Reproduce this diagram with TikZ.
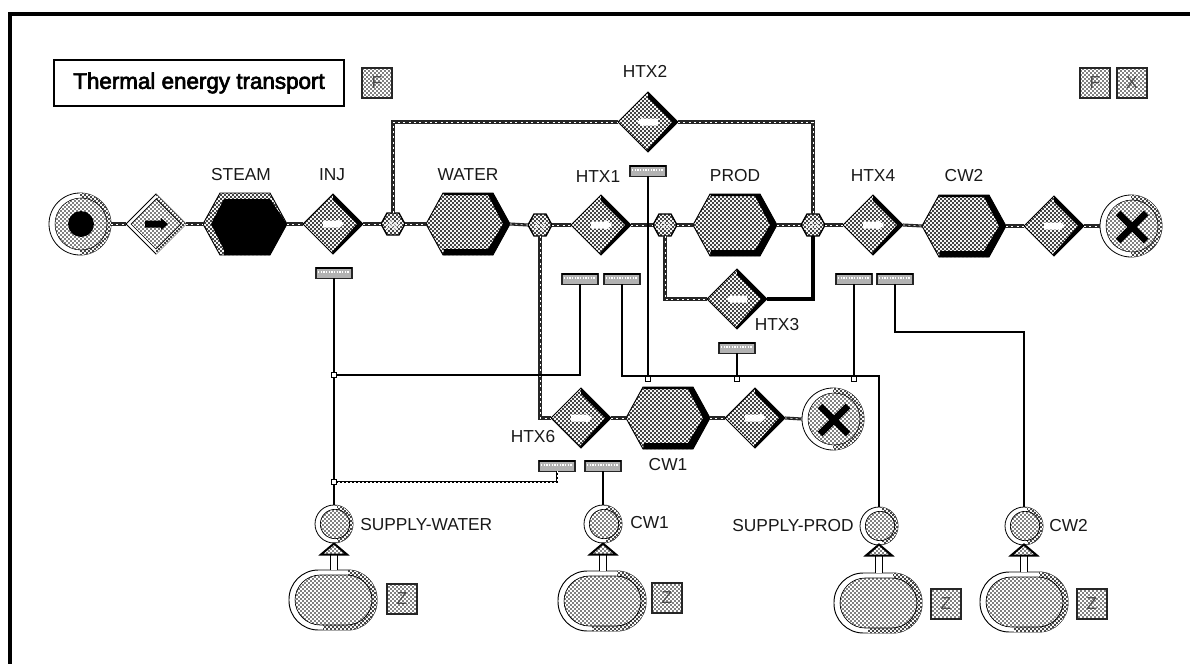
\documentclass[tikz,border=0pt]{standalone}
\usepackage{fontspec}
\setmainfont{Liberation Sans}
\newfontfamily\titlefont[FakeBold=3]{Liberation Sans}
\usetikzlibrary{patterns,shapes.geometric,calc}
\pgfdeclarepatternformonly{finedots}{\pgfqpoint{-1pt}{-1pt}}{\pgfqpoint{4pt}{4pt}}{\pgfqpoint{3pt}{3pt}}{
  \pgfpathcircle{\pgfqpoint{0.75pt}{0.75pt}}{0.72pt}
  \pgfpathcircle{\pgfqpoint{2.25pt}{2.25pt}}{0.72pt}
  \pgfusepath{fill}}
\pgfdeclarepatternformonly{densedots}{\pgfqpoint{-1pt}{-1pt}}{\pgfqpoint{4pt}{4pt}}{\pgfqpoint{3pt}{3pt}}{
  \pgfpathcircle{\pgfqpoint{0.75pt}{0.75pt}}{0.9pt}
  \pgfpathcircle{\pgfqpoint{2.25pt}{2.25pt}}{0.9pt}
  \pgfusepath{fill}}
\tikzset{
  x=0.75pt,y=-0.75pt,
  lfill/.style={preaction={fill=white},pattern=finedots,pattern color=black},
  dfill/.style={preaction={fill=white},pattern=densedots,pattern color=black},
  pipe/.style={preaction={draw=black!85,line width=2.3pt},draw=white,line width=.5pt,dash pattern=on 1.5pt off 2.5pt},
  pipeb/.style={draw=black,line width=2.3pt},
  sig/.style={draw=black,line width=.8pt},
  sigd/.style={preaction={draw=black,line width=1.2pt},draw=white,line width=.4pt,dash pattern=on 1.2pt off 1.8pt},
  lab/.style={font=\fontsize{13}{15}\selectfont,inner sep=0pt,text=black!90},
  diabox/.style={diamond,aspect=1,minimum width=45pt,minimum height=45pt,inner sep=0pt,outer sep=0pt,dfill,draw=black,line width=.7pt},
  srcdia/.style={diamond,aspect=1,minimum width=45pt,minimum height=45pt,inner sep=0pt,outer sep=0pt,fill=white,draw=black,line width=.6pt},
  hexbox/.style={rectangle,minimum width=63pt,minimum height=46.5pt,inner sep=0pt,outer sep=0pt},
  junbox/.style={rectangle,minimum width=18pt,minimum height=16.5pt,inner sep=0pt,outer sep=0pt},
  bigcirc/.style={circle,minimum size=46.5pt,inner sep=0pt,outer sep=0pt,fill=white,draw=black,line width=.6pt},
  smallcirc/.style={circle,minimum size=28.5pt,inner sep=0pt,outer sep=0pt,fill=white,draw=black,line width=.6pt},
  sensor/.style={rectangle,minimum width=27pt,minimum height=8.2pt,inner sep=0pt,outer sep=0pt,fill=black!30,draw=black!85,line width=1.3pt},
  tap/.style={rectangle,minimum size=3.8pt,inner sep=0pt,outer sep=0pt,fill=white,draw=black,line width=.7pt},
  tinydot/.style={circle,minimum size=2.6pt,inner sep=0pt,outer sep=0pt,fill=white,draw=black,line width=.4pt},
  btn/.style={rectangle,minimum size=23pt,inner sep=0pt,outer sep=0pt,lfill,draw=black!85,line width=1.4pt},
  tankbox/.style={rectangle,minimum width=66pt,minimum height=45pt,inner sep=0pt,outer sep=0pt},
  tribox/.style={rectangle,minimum width=19pt,minimum height=8.5pt,inner sep=0pt,outer sep=0pt},
  stem/.style={draw=black,line width=.9pt,double=white,double distance=4pt},
  trishape/.style={lfill,draw=black,line width=1.5pt},
}
\newcommand{\btnglyph}[1]{\textcolor{black!70}{\fontsize{13}{13}\selectfont #1}}
\newcommand{\Diam}[4]{%
  \node[diabox] (#1) at (#2,#3) {};
  \begin{scope}[shift={(#2,#3)}]
    \fill[black] (0,-30)--(30,0)--(0,30)--(-1,28)--(24,0)--(0,-24)--cycle;
    \fill[white] (-10*#4,-3.5)--(5*#4,-3.5)--(5*#4,-5)--(11*#4,0)--(5*#4,5)--(5*#4,3.5)--(-10*#4,3.5)--cycle;
  \end{scope}}
\newcommand{\Hexa}[3]{%
  \node[hexbox] (#1) at (#2,#3) {};
  \begin{scope}[shift={(#2,#3)}]
    \draw[dfill,draw=black,line width=.7pt] (-42,0)--(-25,-31)--(25,-31)--(42,0)--(25,31)--(-25,31)--cycle;
    \fill[black] (-25,31)--(25,31)--(42,0)--(25,-31)--(-25,-31)--(-24,-29)--(20,-29)--(35,0)--(20,25)--(-24,25)--cycle;
  \end{scope}}
\newcommand{\Jun}[3]{%
  \node[junbox] (#1) at (#2,#3) {};
  \begin{scope}[shift={(#2,#3)}]
    \draw[dfill,draw=black,line width=1pt] (-12,0)--(-6,-11)--(6,-11)--(12,0)--(6,11)--(-6,11)--cycle;
    \draw[white,line width=.45pt] plot[smooth,domain=-7:7,samples=12] (\x,{2.5*sin(\x*50)-1});
    \draw[white,line width=.45pt] plot[smooth,domain=-7:7,samples=12] (\x,{2.5*sin(\x*50)+3});
  \end{scope}}
\newcommand{\BigC}[4]{%
  \node[bigcirc] (#1) at (#2,#3) {};
  \begin{scope}[shift={(#2,#3)}]
    \begin{scope}
      \clip (0,-32) rectangle (32,32);
      \fill[dfill] (0,0) circle[radius=23.2pt];
    \end{scope}
    \draw[lfill,draw=black,line width=.4pt] (1,0) circle[radius=19.5pt];
    #4
  \end{scope}}
\newcommand{\SmC}[3]{%
  \node[smallcirc] (#1) at (#2,#3) {};
  \begin{scope}[shift={(#2,#3)}]
    \begin{scope}
      \clip (3,-20) rectangle (20,20);
      \fill[dfill] (0,0) circle[radius=14.2pt];
    \end{scope}
    \draw[lfill,draw=black,line width=.5pt] (1,0) circle[radius=11pt];
  \end{scope}}
\newcommand{\Tank}[3]{%
  \node[tankbox] (#1) at (#2,#3) {};
  \begin{scope}[shift={(#2,#3)}]
    \draw[fill=white,draw=black,line width=.7pt,rounded corners=22pt] (-44,-30) rectangle (44,30);
    \begin{scope}
      \clip (15,-31) rectangle (45,31);
      \fill[dfill,rounded corners=22pt] (-44,-30) rectangle (44,30);
    \end{scope}
    \begin{scope}
      \clip (-10,24) rectangle (20,31);
      \fill[dfill,rounded corners=22pt] (-44,-30) rectangle (44,30);
    \end{scope}
    \draw[lfill,draw=black,line width=.5pt,rounded corners=19pt] (-38,-25) rectangle (39,25);
  \end{scope}}
\newcommand{\Sens}[3]{%
  \node[sensor] (#1) at (#2,#3) {};
  \begin{scope}[shift={(#2,#3)}]
    \draw[white,line width=1pt,dash pattern=on 1pt off 1pt] (-16,-1)--(16,-1);
    \draw[black,line width=1pt] (-18,-5)--(18,-5);
  \end{scope}}
\begin{document}
\begin{tikzpicture}
\useasboundingbox (0,0) rectangle (1190,664);
\fill[white] (0,0) rectangle (1190,664);
\draw[black,line width=2.7pt] (10,664)--(10,14)--(1190,14);
\node[rectangle,draw=black,line width=1.3pt,minimum width=218pt,minimum height=34pt,inner sep=0pt,fill=white,font=\titlefont\fontsize{16.8}{20}\selectfont] (title) at (199,83) {Thermal energy transport};
\node[btn] (b0) at (377,83) {\btnglyph{F}};
\node[btn] (b1) at (1095,83) {\btnglyph{F}};
\node[btn] (b2) at (1132,83) {\btnglyph{X}};
\BigC{src}{80}{224}{\fill[black] (1,0) circle[radius=9.7pt];}
\node[srcdia] (d0) at (156,224) {};
\begin{scope}[shift={(156,224)}]
  \begin{scope}\clip (0,-31) rectangle (31,31); \fill[dfill] (0,-30)--(30,0)--(0,30)--cycle; \end{scope}
  \draw[lfill,draw=black,line width=.5pt] (0,-25)--(25,0)--(0,25)--(-25,0)--cycle;
  \fill[black] (-11,-3.5)--(5,-3.5)--(5,-6)--(12,0)--(5,6)--(5,3.5)--(-11,3.5)--cycle;
\end{scope}
\node[hexbox] (steam) at (245,224) {};
\begin{scope}[shift={(245,224)}]
  \draw[dfill,draw=black,line width=.7pt] (-42,0)--(-25,-31)--(25,-31)--(42,0)--(25,31)--(-25,31)--cycle;
  \fill[black] (-34,0)--(-21,-25)--(25,-25)--(42,0)--(25,31)--(-21,31)--(-21,26)--cycle;
\end{scope}
\Diam{inj}{333}{224}{1}
\Jun{j1}{393}{224}
\Hexa{water}{468}{224}
\Jun{j2}{540}{225}
\Diam{htx1}{601}{225}{1}
\Jun{j3}{665}{225}
\Hexa{prod}{735}{225}
\Jun{j4}{813}{225}
\Diam{htx4}{873}{225}{1}
\Hexa{cwb}{964}{226}
\Diam{d5}{1054}{226}{1}
\newcommand{\bigx}{\draw[black,line width=5pt] (-13,-13)--(15,15) (15,-13)--(-13,15);}
\BigC{sinka}{1131}{226}{\bigx}
\Diam{htx2}{648}{122}{-1}
\Diam{htx3}{737}{299}{-1}
\Diam{htx6}{581}{418}{1}
\Hexa{cwa}{668}{418}
\Diam{d6}{755}{418}{1}
\BigC{sinkb}{833}{419}{\bigx}
\draw[pipe] (src.east)--(d0.west);
\draw[pipe] (d0.east)--(steam.west);
\draw[pipe] (steam.east)--(inj.west);
\draw[pipe] (inj.east)--(j1.west);
\draw[pipe] (j1.east)--(water.west);
\draw[pipe] (water.east)--(j2.west);
\draw[pipe] (j2.east)--(htx1.west);
\draw[pipe] (htx1.east)--(j3.west);
\draw[pipe] (j3.east)--(prod.west);
\draw[pipe] (prod.east)--(j4.west);
\draw[pipe] (j4.east)--(htx4.west);
\draw[pipe] (htx4.east)--(cwb.west);
\draw[pipe] (cwb.east)--(d5.west);
\draw[pipe] (d5.east)--(sinka.west);
\draw[pipe] (j1.north) |- (htx2.west);
\draw[pipe] (htx2.east) -| (j4.north);
\draw[pipe] (j3.south) |- (htx3.west);
\draw[pipeb] (htx3.east) -| (j4.south);
\draw[pipe] (j2.south) |- (htx6.west);
\draw[pipe] (htx6.east)--(cwa.west);
\draw[pipe] (cwa.east)--(d6.west);
\draw[pipe] (d6.east)--(sinkb.west);
\Sens{s0}{334}{273}
\Sens{s1}{580}{279}
\Sens{s2}{622}{279}
\Sens{s3}{648}{171}
\Sens{s4}{737}{348}
\Sens{s5}{854}{279}
\Sens{s6}{895}{279}
\Sens{s7}{557}{466}
\Sens{s8}{603}{466}
\node[tap] (t1) at (334,375) {};
\node[tap] (t2) at (334,482) {};
\node[tap] (t3) at (648,379) {};
\node[tap] (t4) at (737,379) {};
\node[tap] (t5) at (854,379) {};
\node[tinydot] (t6) at (540,376) {};
\coordinate (c1) at (879,376);
\coordinate (c2) at (1024,332);
\SmC{swc}{334}{524}
\SmC{cac}{603}{524}
\SmC{spc}{879}{526}
\SmC{cbc}{1024}{526}
\Tank{tk1}{333}{600}
\Tank{tk2}{602}{601}
\Tank{tk3}{878}{603}
\Tank{tk4}{1024}{602}
\node[tribox] (q1) at (334,549) {};
\node[tribox] (q2) at (603,549) {};
\node[tribox] (q3) at (879,550) {};
\node[tribox] (q4) at (1024,550) {};
\draw[stem] (tk1.north -| q1.south)--(q1.south);
\draw[stem] (tk2.north -| q2.south)--(q2.south);
\draw[stem] (tk3.north -| q3.south)--(q3.south);
\draw[stem] (tk4.north -| q4.south)--(q4.south);
\begin{scope}[shift={(334,549)}]\draw[trishape] (0,-5.5)--(13,5.5)--(-13,5.5)--cycle;\end{scope}
\begin{scope}[shift={(603,549)}]\draw[trishape] (0,-5.5)--(13,5.5)--(-13,5.5)--cycle;\end{scope}
\begin{scope}[shift={(879,550)}]\draw[trishape] (0,-5.5)--(13,5.5)--(-13,5.5)--cycle;\end{scope}
\begin{scope}[shift={(1024,550)}]\draw[trishape] (0,-5.5)--(13,5.5)--(-13,5.5)--cycle;\end{scope}
\draw[black,line width=1pt] (q1.north)--(swc.south);
\draw[black,line width=1pt] (q2.north)--(cac.south);
\draw[black,line width=1pt] (q3.north)--(spc.south);
\draw[black,line width=1pt] (q4.north)--(cbc.south);
\node[btn] (z1) at (402,599) {\btnglyph{Z}};
\node[btn] (z2) at (667,598) {\btnglyph{Z}};
\node[btn] (z3) at (946,604) {\btnglyph{Z}};
\node[btn] (z4) at (1092,604) {\btnglyph{Z}};
\draw[sig] (s0.south)--(t1.north);
\draw[sig] (t1.south)--(t2.north);
\draw[sig] (t2.south)--(swc.north);
\draw[sig] (s1.south) |- (t1.east);
\draw[sig] (s2.south) |- (c1) -- (spc.north);
\draw[sig] (s3.south)--(t3.north);
\draw[sig] (s4.south)--(t4.north);
\draw[sig] (s5.south)--(t5.north);
\draw[sig] (s6.south) |- (c2) -- (cbc.north);
\draw[sigd] (s7.south) |- (t2.east);
\draw[sig] (s8.south)--(cac.north);
\node[lab] (l1) at (241,175) {STEAM};
\node[lab] (l2) at (332,175) {INJ};
\node[lab] (l3) at (468,175) {WATER};
\node[lab] (l4) at (598,177) {HTX1};
\node[lab] (l5) at (735,176) {PROD};
\node[lab] (l6) at (873,176) {HTX4};
\node[lab] (l7) at (964,176) {CW2};
\node[lab] (l8) at (645,71) {HTX2};
\node[lab] (l9) at (777,325) {HTX3};
\node[lab] (l10) at (533,437) {HTX6};
\node[lab] (l11) at (668,465) {CW1};
\node[lab,anchor=west] (l12) at (360,525) {SUPPLY-WATER};
\node[lab,anchor=west] (l13) at (630,523) {CW1};
\node[lab,anchor=east] (l14) at (854,526) {SUPPLY-PROD};
\node[lab,anchor=west] (l15) at (1049,526) {CW2};
\end{tikzpicture}
\end{document}
